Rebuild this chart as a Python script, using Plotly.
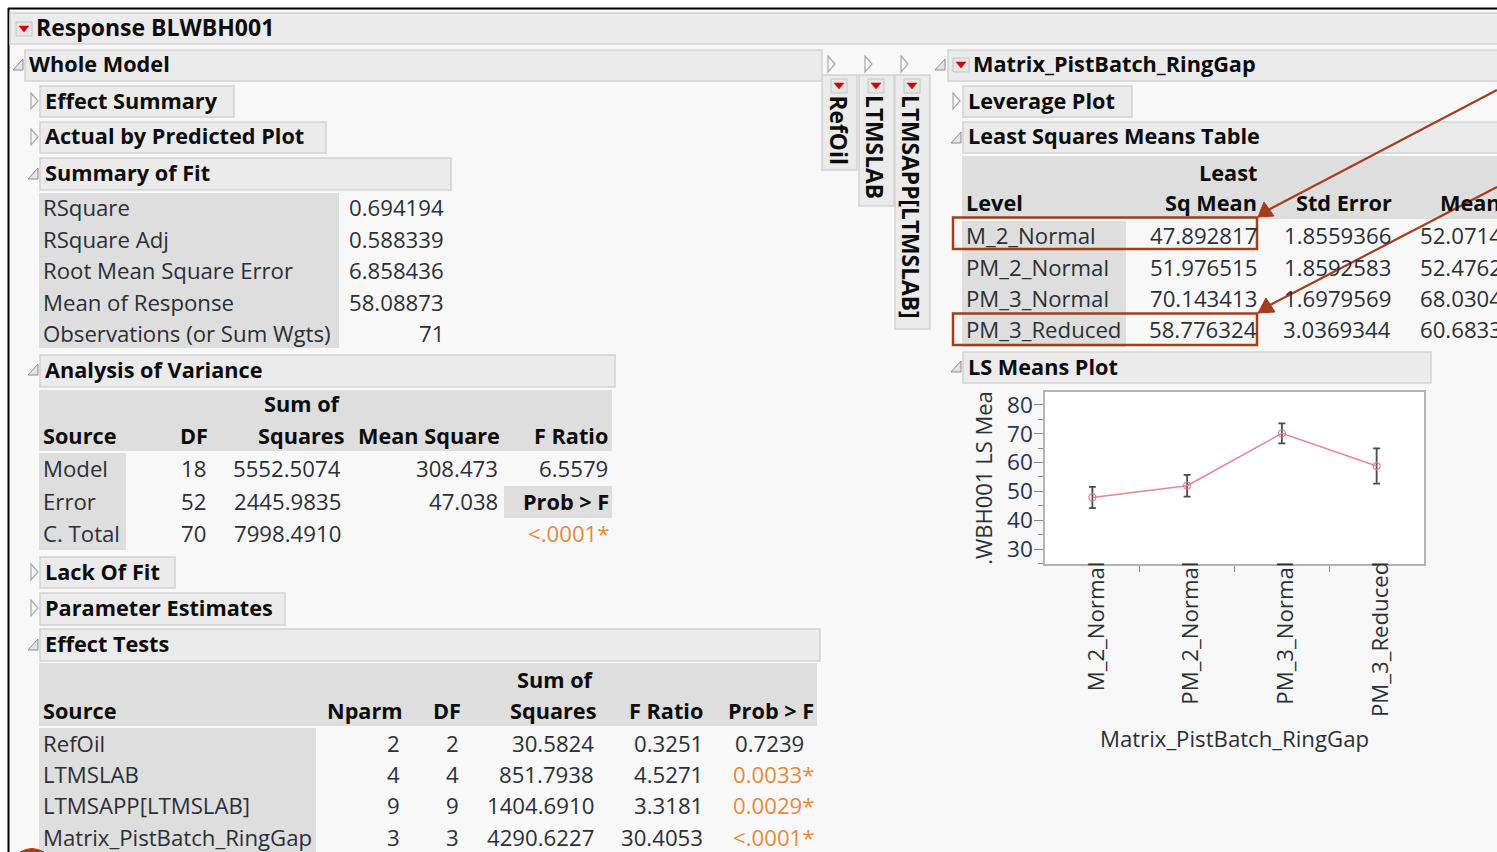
import plotly.graph_objects as go

W, H = 1497, 852
FONT = "Open Sans"
TXT = "#2b2f36"
BOLD = "#0c0c0c"
ORANGE = "#e8893c"
RED = "#a63c1c"
HEAD = "#ebebeb"
EDGE = "#d2d2d2"
CELL = "#dedede"
PAGE = "#f8f8f8"

# ---- data ----
FIT_LABELS = ["RSquare", "RSquare Adj", "Root Mean Square Error", "Mean of Response", "Observations (or Sum Wgts)"]
FIT_VALUES = ["0.694194", "0.588339", "6.858436", "58.08873", "71"]

AOV_SOURCE = ["Model", "Error", "C. Total"]
AOV_DF = ["18", "52", "70"]
AOV_SS = ["5552.5074", "2445.9835", "7998.4910"]
AOV_MS = ["308.473", "47.038", ""]
AOV_F = ["6.5579", "", ""]

EFF_SOURCE = ["RefOil", "LTMSLAB", "LTMSAPP[LTMSLAB]", "Matrix_PistBatch_RingGap"]
EFF_NPARM = ["2", "4", "9", "3"]
EFF_DF = ["2", "4", "9", "3"]
EFF_SS = ["30.5824", "851.7938", "1404.6910", "4290.6227"]
EFF_F = ["0.3251", "4.5271", "3.3181", "30.4053"]
EFF_P = ["0.7239", "0.0033*", "0.0029*", "<.0001*"]

LS_LEVELS = ["M_2_Normal", "PM_2_Normal", "PM_3_Normal", "PM_3_Reduced"]
LS_MEANS = [47.892817, 51.976515, 70.143413, 58.776324]
LS_MEAN_TEXT = ["47.892817", "51.976515", "70.143413", "58.776324"]
LS_SE_TEXT = ["1.8559366", "1.8592583", "1.6979569", "3.0369344"]
LS_MEAN4 = ["52.0714", "52.4762", "68.0304", "60.6833"]
LS_UPPER = [51.6, 55.7, 73.6, 64.9]
LS_LOWER = [44.2, 48.2, 66.7, 52.7]

YTICKS = [30, 40, 50, 60, 70, 80]

# ---- helpers, pixel coordinates measured from the top-left ----
shapes, notes = [], []
fx = lambda x: x / W
fy = lambda y: 1 - y / H


def rect(x0, y0, x1, y1, fill, line=None, lw=1, layer="below"):
    shapes.append(dict(type="rect", xref="paper", yref="paper", x0=fx(x0), x1=fx(x1), y0=fy(y0), y1=fy(y1),
                       fillcolor=fill, line=dict(color=line or fill, width=lw if line else 0), layer=layer))


def poly(pts, fill=None, line=None, lw=1, layer="below"):
    p = "M" + " L".join(f"{fx(x):.5f},{fy(y):.5f}" for x, y in pts) + " Z"
    shapes.append(dict(type="path", xref="paper", yref="paper", path=p, fillcolor=fill or "rgba(0,0,0,0)",
                       line=dict(color=line or fill, width=lw), layer=layer))


def seg(x0, y0, x1, y1, color, lw, layer="above"):
    shapes.append(dict(type="line", xref="paper", yref="paper", x0=fx(x0), x1=fx(x1), y0=fy(y0), y1=fy(y1),
                       line=dict(color=color, width=lw), layer=layer))


def text(x, y, s, anchor="left", bold=False, color=None, size=None):
    if not s:
        return
    size = size or (21.7 if bold else 22.2)
    s = s.replace("<", "&lt;")
    dx = -1.5 if anchor == "left" else 1.5
    notes.append(dict(xref="paper", yref="paper", x=fx(x + dx), y=fy(y - 1), text=f"<b>{s}</b>" if bold else s,
                      xanchor=anchor, yanchor="middle", showarrow=False, borderpad=0,
                      font=dict(family=FONT, size=size, color=color or (BOLD if bold else TXT))))


def header(x0, y0, x1, y1, s, tx=None, size=None):
    rect(x0, y0, x1, y1, HEAD, EDGE, 1.5)
    text(tx if tx else x0 + 5, (y0 + y1) / 2 - 0.5, s, bold=True, size=size)


def tri_closed(x, y):
    poly([(x, y - 8), (x + 7, y), (x, y + 8)], line="#a8a8a8", lw=1.2)


def tri_open(x, y):
    poly([(x + 10, y - 6), (x + 10, y + 5), (x, y + 5)], fill="#e4e4e4", line="#8c8c8c", lw=1)


def button(x, y):
    rect(x - 8, y - 7, x + 8, y + 7, "#e6e6e6", "#c4c4c4", 1)
    poly([(x - 5, y - 3), (x + 5, y - 3), (x, y + 3)], fill="#d40000", line="#d40000", lw=0.5)


# page
rect(0, 0, W, 8, "#ffffff")
rect(0, 0, 8, H, "#ffffff")
seg(8, 8.5, W, 8.5, "#000000", 2, "below")
seg(8.5, 8, 8.5, H, "#000000", 2, "below")

# title bars
header(10, 13, W + 5, 44, "Response BLWBH001", 36, 23)
button(24, 29)
header(25, 50, 822, 81, "Whole Model", 29)
tri_open(13, 65)
header(40, 86, 234, 117, "Effect Summary")
tri_closed(31, 101)
header(40, 122, 326, 153, "Actual by Predicted Plot")
tri_closed(31, 137)
header(40, 158, 451, 190, "Summary of Fit")
tri_open(28, 174)

# summary of fit
rect(39, 193, 339, 348, CELL)
for y, a, b in zip([209, 240, 271, 303, 334], FIT_LABELS, FIT_VALUES):
    text(43, y, a)
    text(443, y, b, "right")

# analysis of variance
header(40, 355, 615, 387, "Analysis of Variance")
tri_open(28, 370)
rect(39, 390, 612, 451, CELL)
text(340, 405, "Sum of", "right", True)
text(43, 437, "Source", bold=True)
text(207, 437, "DF", "right", True)
text(343, 437, "Squares", "right", True)
text(499, 437, "Mean Square", "right", True)
text(607, 437, "F Ratio", "right", True)
rect(39, 453, 126, 550, CELL)
rect(504, 486, 612, 518, CELL)
text(608, 502, "Prob > F", "right", True)
text(608, 534, "<.0001*", "right", color=ORANGE)
for i, y in enumerate([469, 502, 534]):
    text(43, y, AOV_SOURCE[i])
    text(205, y, AOV_DF[i], "right")
    text(340, y, AOV_SS[i], "right")
    text(497, y, AOV_MS[i], "right")
    text(607, y, AOV_F[i], "right")

header(40, 557, 175, 588, "Lack Of Fit")
tri_closed(31, 572)
header(40, 593, 285, 625, "Parameter Estimates")
tri_closed(31, 608)

# effect tests
header(40, 629, 820, 661, "Effect Tests")
tri_open(28, 645)
rect(39, 663, 817, 726, CELL)
text(593, 680, "Sum of", "right", True)
text(43, 711, "Source", bold=True)
text(402, 711, "Nparm", "right", True)
text(460, 711, "DF", "right", True)
text(595, 711, "Squares", "right", True)
text(702, 711, "F Ratio", "right", True)
text(813, 711, "Prob > F", "right", True)
rect(39, 728, 316, H, CELL)
for i, y in enumerate([744, 775, 806, 838]):
    text(43, y, EFF_SOURCE[i])
    text(399, y, EFF_NPARM[i], "right")
    text(459, y, EFF_DF[i], "right")
    text(593, y, EFF_SS[i], "right")
    text(702, y, EFF_F[i], "right")
    star = EFF_P[i].endswith("*")
    text(813 if star else 803, y, EFF_P[i], "right", color=ORANGE if star else TXT)

# collapsed vertical tabs
for tx, bottom, s in [(822, 170, "RefOil"), (859, 206, "LTMSLAB"), (895, 329, "LTMSAPP[LTMSLAB]")]:
    tri_closed(tx + 6, 64)
    rect(tx, 75, tx + 35, bottom, HEAD, EDGE, 1.5)
    button(tx + 17, 86)
    notes.append(dict(xref="paper", yref="paper", x=fx(tx + 16), y=fy(94), text=f"<b>{s}</b>", xanchor="center",
                      yanchor="top", showarrow=False, textangle=90, borderpad=0,
                      font=dict(family=FONT, size=22.8, color=BOLD)))

# right column
header(948, 50, W + 5, 81, "Matrix_PistBatch_RingGap", 973)
tri_open(935, 65)
button(961, 65)
header(963, 86, 1132, 117, "Leverage Plot")
tri_closed(953, 101)
header(963, 122, W + 5, 153, "Least Squares Means Table")
tri_open(951, 138)
rect(962, 156, W, 219, CELL)
text(1256, 173, "Least", "right", True)
text(966, 204, "Level", bold=True)
text(1256, 204, "Sq Mean", "right", True)
text(1391, 204, "Std Error", "right", True)
text(1440, 204, "Mean", bold=True)
rect(962, 221, 1126, 347, CELL)
for i, y in enumerate([236, 268, 299, 330]):
    text(966, y, LS_LEVELS[i])
    text(1256, y, LS_MEAN_TEXT[i], "right")
    text(1390, y, LS_SE_TEXT[i], "right")
    text(1420, y, LS_MEAN4[i])
header(963, 352, 1431, 383, "LS Means Plot")
tri_open(951, 367)

# callouts
for y0, y1 in [(217.5, 249), (313.5, 345)]:
    rect(953, y0, 1257, y1, "rgba(0,0,0,0)", RED, 2.5, "above")
seg(W, 90, 1268, 210, RED, 2.2)
poly([(1258, 217), (1264, 202), (1274, 216)], fill=RED, line=RED, layer="above")
seg(W, 187, 1270, 305, RED, 2.2)
poly([(1258, 313), (1266, 298), (1275, 312)], fill=RED, line=RED, layer="above")
# circle peeking in at the bottom edge
poly([(20, H), (26, 849.5), (32, 848.5), (38, 849.5), (44, H)], fill=RED, line=RED, layer="above")
# the reference has no x ticks at the two ends of the axis
rect(1043.5, 566, 1046.5, 573, PAGE, layer="above")
rect(1422.5, 566, 1425.5, 573, PAGE, layer="above")

# ---- LS means plot (real trace on real axes) ----
err_up = [u - m for u, m in zip(LS_UPPER, LS_MEANS)]
err_dn = [m - l for l, m in zip(LS_LOWER, LS_MEANS)]
fig = go.Figure(go.Scatter(
    x=LS_LEVELS, y=LS_MEANS, mode="lines+markers",
    line=dict(color="#e58595", width=1.6),
    marker=dict(symbol="circle-open", size=7, color="#e27c8e", line=dict(width=1.3)),
    error_y=dict(type="data", symmetric=False, array=err_up, arrayminus=err_dn,
                 color="#4a4a4a", thickness=1.8, width=3.5),
))
fig.update_layout(
    width=W, height=H, margin=dict(l=0, r=0, t=0, b=0, autoexpand=False), autosize=False,
    paper_bgcolor=PAGE, plot_bgcolor="#ffffff", showlegend=False,
    shapes=shapes, annotations=notes, font=dict(family=FONT, color=TXT, size=21),
    xaxis=dict(domain=[fx(1045), fx(1424)], type="category", range=[-0.5, 3.5], tickson="boundaries",
               ticks="outside", ticklen=6, tickcolor="#8a8a8a", tickwidth=1, tickangle=-90,
               tickfont=dict(family=FONT, size=22.2, color=TXT), showgrid=False, zeroline=False,
               showline=True, linecolor="#b4b4b4", linewidth=1.5, mirror=True,
               ticklabelstandoff=-13, ticklabelshift=4,
               title=dict(text="Matrix_PistBatch_RingGap", standoff=15,
                          font=dict(family=FONT, size=22.2, color=TXT))),
    yaxis=dict(domain=[fy(564), fy(392)], range=[24.8, 84.5], tickvals=YTICKS, ticks="outside", ticklen=9,
               tickcolor="#8a8a8a", tickwidth=1, minor=dict(dtick=5, ticks="outside", ticklen=5, tickcolor="#8a8a8a"),
               tickfont=dict(family=FONT, size=22.5, color="#1f3350"), showgrid=False, zeroline=False,
               showline=True, linecolor="#b4b4b4", linewidth=1.5, mirror=True, ticklabelstandoff=-3,
               title=dict(text=".WBH001 LS Mea", standoff=8,
                          font=dict(family=FONT, size=22, color=TXT))),
)
fig.write_html("out.html", config=dict(displayModeBar=False),
               post_script="document.body.style.margin='0';document.documentElement.style.overflow='hidden';")
